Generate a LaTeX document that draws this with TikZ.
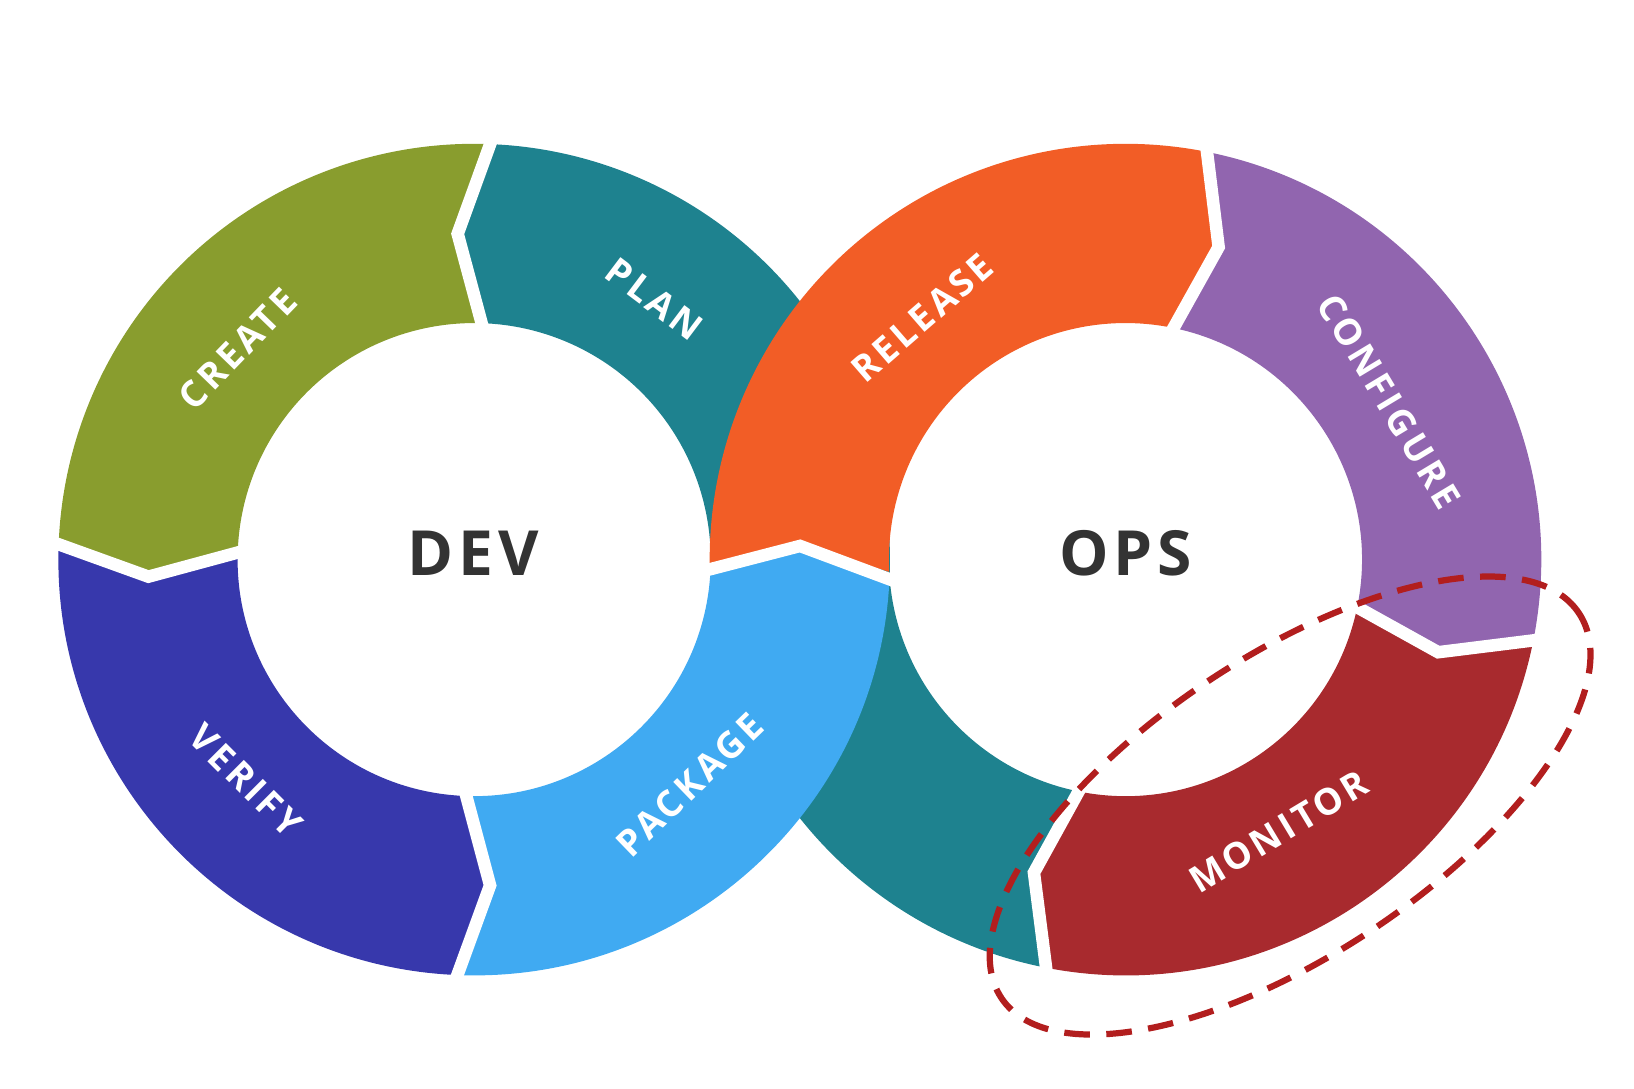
\documentclass[tikz,border=0pt]{standalone}
\usepackage{fontspec}
\setmainfont{Open Sans}
\newfontfamily\stagefont[LetterSpace=10]{Open Sans}
\newfontfamily\hubfont[LetterSpace=8]{Open Sans}
\usepackage{tikz}
\definecolor{createcol}{RGB}{137,157,46}
\definecolor{plancol}{RGB}{30,130,143}
\definecolor{verifycol}{RGB}{55,56,172}
\definecolor{packagecol}{RGB}{64,170,242}
\definecolor{releasecol}{RGB}{242,93,38}
\definecolor{configcol}{RGB}{145,101,175}
\definecolor{monitorcol}{RGB}{168,42,46}
\definecolor{focuscol}{RGB}{178,30,30}
\definecolor{hubcol}{RGB}{51,51,51}
\newcommand{\ringout}{3.99}
\newcommand{\ringin}{2.27}
\newcommand{\ringmid}{3.13}
% one piece of a ring: from angle #1 to #2, point offset #3
\newcommand{\ringpart}[4]{%
  \fill[#4] (#1:\ringout) arc[start angle=#1, end angle=#2, radius=\ringout]
    -- ({#2+#3}:\ringmid) -- (#2:\ringin)
    arc[start angle=#2, end angle=#1, radius=\ringin]
    -- ({#1+#3}:\ringmid) -- cycle;}
% white cut between two pieces
\newcommand{\ringcut}[2]{%
  \draw[cut] (#1:4.10) -- ({#1+#2}:\ringmid) -- (#1:2.16);}

\begin{document}
\begin{tikzpicture}
\tikzstyle{cut}=[white, line width=0.12cm]
\tikzstyle{stage}=[text=white, font=\stagefont\bfseries\fontsize{10}{12}\selectfont, inner sep=0pt]
\tikzstyle{hub}=[text=hubcol, font=\hubfont\bfseries\fontsize{17}{20}\selectfont, inner sep=0pt]
\tikzstyle{focus}=[focuscol, line width=1.7pt, dash pattern=on 7pt off 4.5pt]
\useasboundingbox (0,0) rectangle (15.68,10.45);

	% teal band, under the crossing
	\begin{scope}[shift={(4.55,5.08)}]
		\ringpart{-3.2}{87.3}{5.6}{plancol}
	\end{scope}
	\begin{scope}[shift={(10.80,5.08)}]
		\ringpart{-100.5}{-177}{-5.8}{plancol}
		\ringpart{183}{79.2}{-5.8}{releasecol}
	\end{scope}
	% dev ring
	\begin{scope}[shift={(4.55,5.08)}]
		\ringpart{87.3}{177.4}{5.6}{createcol}
		\ringpart{177.4}{267.2}{5.6}{verifycol}
		\ringpart{267.2}{356.8}{5.6}{packagecol}
		\ringcut{87.3}{5.6}
		\ringcut{177.4}{5.6}
		\ringcut{267.2}{5.6}
		\ringcut{356.8}{5.6}
	\end{scope}
	% ops ring
	\begin{scope}[shift={(10.80,5.08)}]
		\ringpart{79.2}{-10.7}{-5.8}{configcol}
		\ringpart{-10.7}{-100.5}{-5.8}{monitorcol}
		\ringcut{79.2}{-5.8}
		\ringcut{-10.7}{-5.8}
		\ringcut{-100.5}{-5.8}
	\end{scope}

	\node[hub] (dev) at (4.54,5.14) {DEV};
	\node[hub] (ops) at (10.80,5.14) {OPS};

	\node[stage, rotate=46] (create) at (2.28,7.10) {CREATE};
	\node[stage, rotate=-37] (plan) at (6.28,7.58) {PLAN};
	\node[stage, rotate=-45] (verify) at (2.36,2.96) {VERIFY};
	\node[stage, rotate=44] (package) at (6.62,2.92) {PACKAGE};
	\node[stage, rotate=41] (release) at (8.85,7.40) {RELEASE};
	\node[stage, rotate=-59] (configure) at (13.33,6.60) {CONFIGURE};
	\node[stage, rotate=31] (monitor) at (12.27,2.47) {MONITOR};

	\draw[focus, rotate around={33.7:(12.38,2.72)}] (12.38,2.72) ellipse [x radius=3.33, y radius=1.43];
\end{tikzpicture}
\end{document}
